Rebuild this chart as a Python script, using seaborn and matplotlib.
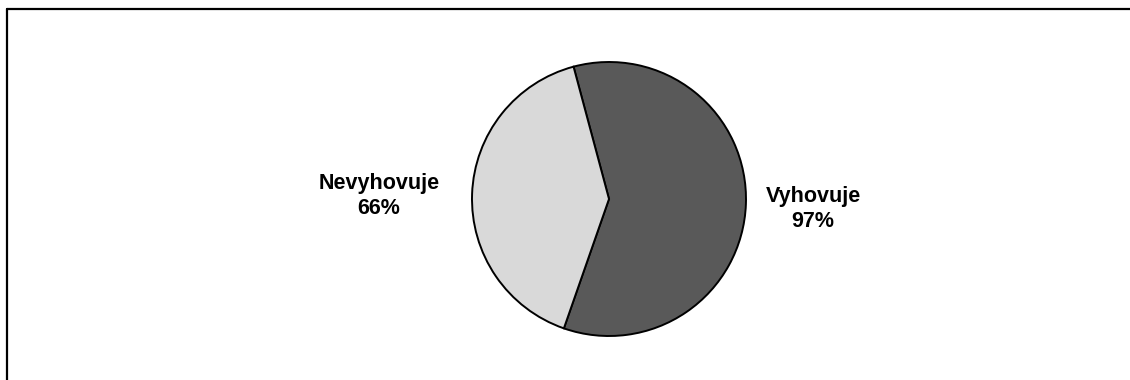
import matplotlib
matplotlib.use("Agg")
import matplotlib.pyplot as plt
from matplotlib.lines import Line2D
import seaborn as sns

# Assessment results
categories = ["Vyhovuje", "Nevyhovuje"]
values = [97, 66]
colors = ["#595959", "#d9d9d9"]

sns.set_theme(style="white")
plt.rcParams["font.family"] = ["Liberation Sans", "DejaVu Sans"]

W, H, DPI = 1130, 380, 100
fig = plt.figure(figsize=(W / DPI, H / DPI), dpi=DPI, facecolor="white")
ax = fig.add_axes([0, 0, 1, 1])

# pie geometry in pixels
cx, cy, r = 609, 199, 137

wedges, _ = ax.pie(
    values,
    colors=colors,
    startangle=105,
    counterclock=False,
    radius=1,
    center=(0, 0),
    wedgeprops=dict(edgecolor="black", linewidth=1.4),
)

ax.set_xlim(-cx / r, (W - cx) / r)
ax.set_ylim(-(H - cy) / r, cy / r)
ax.set_aspect("auto")
ax.axis("off")

# category labels with value
label_pos = {
    "Vyhovuje": ((813 - cx) / r, (cy - 209) / r),
    "Nevyhovuje": ((379 - cx) / r, (cy - 196) / r),
}
for cat, val in zip(categories, values):
    x, y = label_pos[cat]
    ax.text(x, y, f"{cat}\n{val}%", ha="center", va="center",
            fontsize=15.5, fontweight="bold", linespacing=1.25, color="black")

# outer frame (top and left edges)
fig.add_artist(Line2D([6.5 / W, 6.5 / W], [0, (H - 9) / H], color="black",
                      linewidth=1.6, transform=fig.transFigure))
fig.add_artist(Line2D([6.5 / W, 1], [(H - 9) / H, (H - 9) / H], color="black",
                      linewidth=1.6, transform=fig.transFigure))

fig.savefig("out.png", dpi=DPI, facecolor="white")
